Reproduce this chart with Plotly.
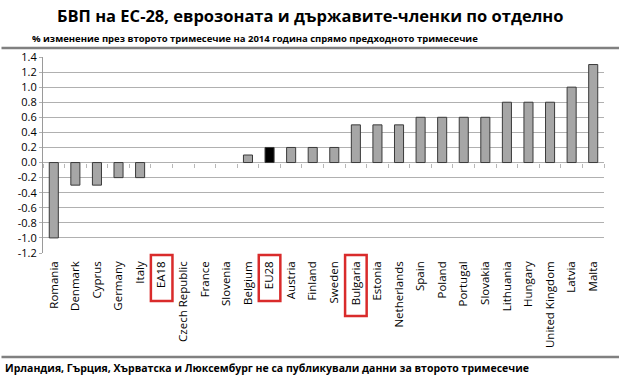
import plotly.graph_objects as go

countries = ["Romania", "Denmark", "Cyprus", "Germany", "Italy", "EA18", "Czech Republic",
             "France", "Slovenia", "Belgium", "EU28", "Austria", "Finland", "Sweden",
             "Bulgaria", "Estonia", "Netherlands", "Spain", "Poland", "Portugal", "Slovakia",
             "Lithuania", "Hungary", "United Kingdom", "Latvia", "Malta"]
growth = [-1.0, -0.3, -0.3, -0.2, -0.2, 0.0, 0.0, 0.0, 0.0, 0.1, 0.2, 0.2, 0.2, 0.2,
          0.5, 0.5, 0.5, 0.6, 0.6, 0.6, 0.6, 0.8, 0.8, 0.8, 1.0, 1.3]
highlighted = ["EA18", "EU28", "Bulgaria"]
y_ticks = [1.4, 1.2, 1.0, 0.8, 0.6, 0.4, 0.2, 0.0, -0.2, -0.4, -0.6, -0.8, -1.0, -1.2]

title = "БВП на ЕС-28, еврозоната и държавите-членки по отделно"
subtitle = "% изменение през второто тримесечие на 2014 година спрямо предходното тримесечие"
footer = "Ирландия, Гърция, Хърватска и Люксембург не са публикували данни за второто тримесечие"

W, H = 620, 379
L, R, T, B = 43, 16, 57, 126
ymin, ymax = -1.2, 1.4
pw, ph = W - L - R, H - T - B
n = len(countries)


def px_x(x):
    return (x - L) / pw


def px_y(y):
    return (H - B - y) / ph


colors = ["#000000" if c == "EU28" else "#a6a6a6" for c in countries]
outline_w = [0 if v == 0 else 1 for v in growth]

fig = go.Figure()
fig.add_trace(go.Bar(x=countries, y=growth, marker=dict(color=colors,
                     line=dict(color="#3a3a3a", width=outline_w)), width=0.42,
                     hoverinfo="x+y", showlegend=False))
fig.add_trace(go.Scatter(x=countries, y=[None] * n, xaxis="x2",
                         mode="markers", showlegend=False, hoverinfo="skip"))

font = "Open Sans"
fig.update_layout(
    width=W, height=H, margin=dict(l=L, r=R, t=T, b=B, autoexpand=False),
    paper_bgcolor="white", plot_bgcolor="white",
    font=dict(family=font, color="#000000"),
    xaxis=dict(categoryorder="array", categoryarray=countries, range=[-0.5, n - 0.5],
               tickangle=-90, showline=False, showgrid=False, ticks="", automargin=False,
               tickfont=dict(size=11.5, color="#000000"), ticklabelstandoff=5),
    xaxis2=dict(overlaying="x", anchor="free", position=(0 - ymin) / (ymax - ymin),
                matches="x", categoryorder="array", categoryarray=countries,
                tickson="boundaries", ticks="outside", ticklen=4, tickcolor="#b8b8b8",
                showticklabels=False, showline=True, linecolor="#ffffff", linewidth=1,
                showgrid=False, layer="below traces", automargin=False),
    yaxis=dict(range=[ymin, ymax], tickvals=y_ticks, ticktext=[f"{v:.1f}" for v in y_ticks],
               showgrid=True, gridcolor="#b0b0b0", gridwidth=1, zeroline=False, automargin=False,
               showline=True, linecolor="#9a9a9a", ticks="outside", ticklen=3,
               tickcolor="#b0b0b0", tickfont=dict(size=11, color="#000000")),
)

fig.add_annotation(text=f"<b>{title}</b>", xref="paper", yref="paper", x=px_x(310), y=px_y(15),
                   showarrow=False, font=dict(size=16.5, family=font), xanchor="center", yanchor="middle")
fig.add_annotation(text=f"<b>{subtitle}</b>", xref="paper", yref="paper", x=px_x(255), y=px_y(38),
                   showarrow=False, font=dict(size=9.5, family=font), xanchor="center", yanchor="middle")
fig.add_annotation(text=f"<b>{footer}</b>", xref="paper", yref="paper", x=px_x(3), y=px_y(368),
                   showarrow=False, font=dict(size=10.5, family=font), xanchor="left", yanchor="middle")

# separator rules drawn as headless annotation arrows spanning the page width
for yline in (48, 357):
    fig.add_annotation(text="", xref="paper", yref="paper", x=px_x(W - 1), y=px_y(yline),
                       ax=-(W - 1), ay=0, showarrow=True, arrowhead=0, arrowwidth=2.5,
                       arrowcolor="#808080", standoff=0, startstandoff=0)

box_bottom = {"EA18": 301, "EU28": 301, "Bulgaria": 316}
for c in highlighted:
    i = countries.index(c)
    fig.add_shape(type="rect", xref="x", yref="paper", x0=i - 0.5, x1=i + 0.5,
                  y0=px_y(255), y1=px_y(box_bottom[c]), line=dict(color="#d92b2b", width=2.5))

fig.write_html("out.html", config={"displayModeBar": False},
               post_script="document.body.style.margin='0';")
